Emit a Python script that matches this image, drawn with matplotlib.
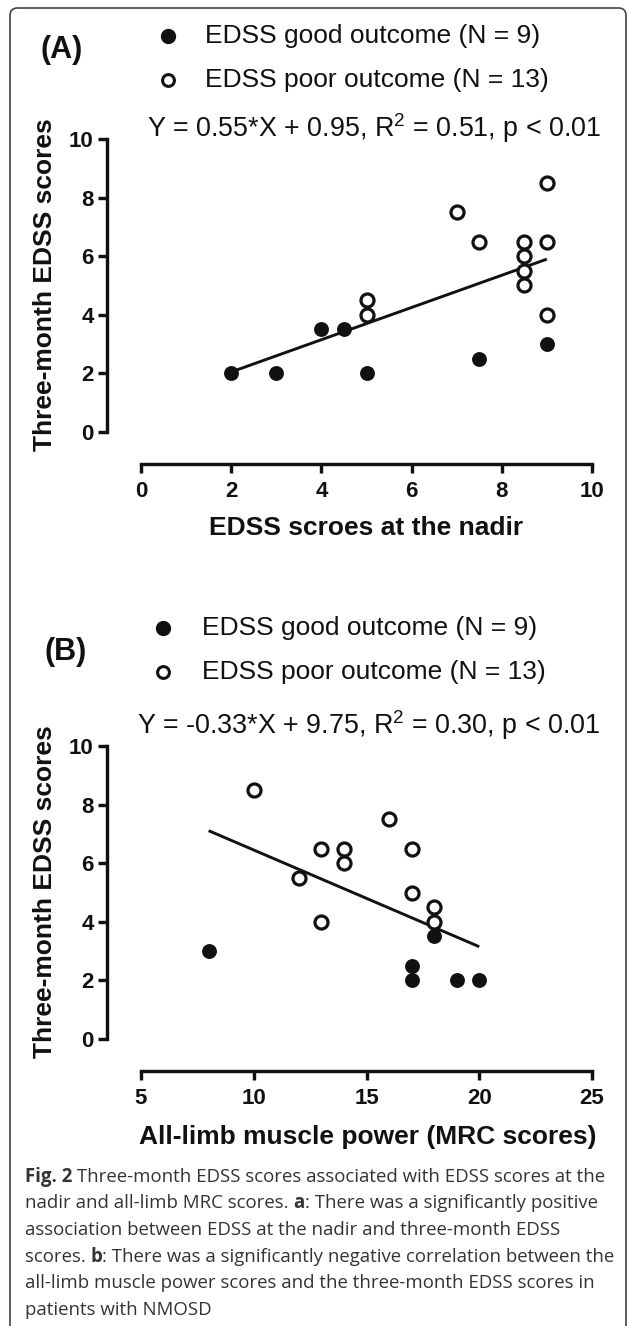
import matplotlib
matplotlib.use("Agg")
import matplotlib.pyplot as plt
from matplotlib.lines import Line2D
from matplotlib.patches import FancyBboxPatch

# ---------------- data ----------------
# Panel A: EDSS at nadir vs three-month EDSS
a_good_x = [2, 3, 4, 4.5, 5, 7.5, 9]
a_good_y = [2, 2, 3.5, 3.5, 2, 2.5, 3]
a_poor_x = [5, 5, 7, 7.5, 8.5, 8.5, 8.5, 8.5, 9, 9, 9]
a_poor_y = [4.5, 4, 7.5, 6.5, 6.5, 6, 5.5, 5, 8.5, 6.5, 4]
a_slope, a_intercept = 0.55, 0.95
a_fit_range = [2, 9]
a_xticks = [0, 2, 4, 6, 8, 10]

# Panel B: all-limb MRC vs three-month EDSS
b_good_x = [8, 17, 17, 18, 19, 20]
b_good_y = [3, 2.5, 2, 3.5, 2, 2]
b_poor_x = [10, 12, 13, 13, 14, 14, 16, 17, 17, 18, 18]
b_poor_y = [8.5, 5.5, 6.5, 4, 6.5, 6, 7.5, 6.5, 5, 4.5, 4]
b_slope, b_intercept = -0.33, 9.75
b_fit_range = [8, 20]
b_xticks = [5, 10, 15, 20, 25]

yticks = [0, 2, 4, 6, 8, 10]

legend_good = "EDSS good outcome (N = 9)"
legend_poor = "EDSS poor outcome (N = 13)"
eq_a = "Y = 0.55*X + 0.95, R$^2$ = 0.51, p < 0.01"
eq_b = "Y = -0.33*X + 9.75, R$^2$ = 0.30, p < 0.01"
ylabel = "Three-month EDSS scores"
xlabel_a = "EDSS scroes at the nadir"
xlabel_b = "All-limb muscle power (MRC scores)"

caption_lines = [
    [("Fig. 2", "bold"), (" Three-month EDSS scores associated with EDSS scores at the", "normal")],
    [("nadir and all-limb MRC scores. ", "normal"), ("a", "bold"), (": There was a significantly positive", "normal")],
    [("association between EDSS at the nadir and three-month EDSS", "normal")],
    [("scores. ", "normal"), ("b", "bold"), (": There was a significantly negative correlation between the", "normal")],
    [("all-limb muscle power scores and the three-month EDSS scores in", "normal")],
    [("patients with NMOSD", "normal")],
]

# ---------------- style ----------------
plt.rcParams['font.family'] = ['Liberation Sans', 'DejaVu Sans']
plt.rcParams['mathtext.fontset'] = 'custom'
plt.rcParams['mathtext.rm'] = 'Liberation Sans'
plt.rcParams['mathtext.it'] = 'Liberation Sans'

W, H = 627, 1326
DPI = 100
fig = plt.figure(figsize=(W / DPI, H / DPI), dpi=DPI)
fig.patch.set_facecolor('white')

def fx(x):
    return x / W

def fy(y):
    return 1 - y / H

INK = '#111111'
PX = 72 / DPI  # points per pixel
LW_SPINE = 3.4 * PX

# border
border = FancyBboxPatch((fx(10), fy(1345)), fx(626) - fx(10), fy(8) - fy(1345),
                        boxstyle="round,pad=0,rounding_size=0.012",
                        transform=fig.transFigure, fill=False,
                        edgecolor='#444444', linewidth=1.2, mutation_aspect=W / H)
fig.add_artist(border)


def make_panel(rect, xlim, xticks, gx, gy, px_, py_, slope, intercept, fit_range, xlabel,
               xlabel_y, label_x_center):
    ax = fig.add_axes(rect)
    ax.set_xlim(*xlim)
    ax.set_ylim(0, 10)
    for s in ['top', 'right']:
        ax.spines[s].set_visible(False)
    ax.spines['left'].set_position(('outward', 34 * PX))
    ax.spines['bottom'].set_position(('outward', 32 * PX))
    ax.spines['left'].set_bounds(0, 10)
    ax.spines['bottom'].set_bounds(*xlim)
    for s in ['left', 'bottom']:
        ax.spines[s].set_linewidth(LW_SPINE)
        ax.spines[s].set_color(INK)
        ax.spines[s].set_capstyle('projecting')
    ax.set_xticks(xticks)
    ax.set_yticks(yticks)
    ax.tick_params(axis='both', direction='out', length=9 * PX,
                   width=LW_SPINE, color=INK, labelsize=16, labelcolor=INK)
    ax.tick_params(axis='x', pad=6)
    ax.tick_params(axis='y', pad=3)
    for lab in ax.get_xticklabels() + ax.get_yticklabels():
        lab.set_fontweight('bold')
    fx_ = list(fit_range)
    fy_ = [slope * v + intercept for v in fx_]
    ax.plot(fx_, fy_, color=INK, linewidth=2.1, zorder=2, solid_capstyle='butt')
    ax.scatter(gx, gy, s=115, marker='o', facecolor=INK, edgecolor=INK, linewidth=0, zorder=3,
               clip_on=False)
    ax.scatter(px_, py_, s=88, marker='o', facecolor='white', edgecolor=INK, linewidth=2.3,
               zorder=3, clip_on=False)
    ax.patch.set_alpha(0)
    fig.text(fx(label_x_center), fy(xlabel_y), xlabel, ha='center', va='center',
             fontsize=19, fontweight='bold', color=INK)
    return ax


# Panel A axes: x 0->141px, 10->592px ; y 0->432, 10->139
axA = make_panel([fx(141), fy(432), fx(592) - fx(141), fy(139) - fy(432)], (0, 10), a_xticks,
                 a_good_x, a_good_y, a_poor_x, a_poor_y, a_slope, a_intercept, a_fit_range,
                 xlabel_a, 528, 366)
# Panel B axes: x 5->141, 25->592 ; y 0->1039, 10->746
axB = make_panel([fx(141), fy(1039), fx(592) - fx(141), fy(746) - fy(1039)], (5, 25), b_xticks,
                 b_good_x, b_good_y, b_poor_x, b_poor_y, b_slope, b_intercept, b_fit_range,
                 xlabel_b, 1137, 368)

# y labels
fig.text(fx(45), fy(285), ylabel, rotation=90, ha='center', va='center', fontsize=19,
         fontweight='bold', color=INK)
fig.text(fx(45), fy(892), ylabel, rotation=90, ha='center', va='center', fontsize=19,
         fontweight='bold', color=INK)

# panel letters
fig.text(fx(62), fy(50), "(A)", ha='center', va='center', fontsize=22, fontweight='bold', color=INK)
fig.text(fx(66), fy(652), "(B)", ha='center', va='center', fontsize=22, fontweight='bold', color=INK)


def legend(mx, y1, y2, tx):
    fig.add_artist(Line2D([fx(mx)], [fy(y1)], transform=fig.transFigure, marker='o',
                          markersize=10, markerfacecolor=INK, markeredgecolor=INK, linestyle='none'))
    fig.add_artist(Line2D([fx(mx)], [fy(y2)], transform=fig.transFigure, marker='o',
                          markersize=8.5, markerfacecolor='white', markeredgecolor=INK,
                          markeredgewidth=2.2, linestyle='none'))
    fig.text(fx(tx), fy(y1), legend_good, ha='left', va='center', fontsize=19, color=INK)
    fig.text(fx(tx), fy(y2), legend_poor, ha='left', va='center', fontsize=19, color=INK)


legend(168, 36, 80, 205)
legend(163, 628, 672, 202)

# equations
fig.text(fx(147), fy(128), eq_a, ha='left', va='center', fontsize=19.4, color=INK)
fig.text(fx(137), fy(725), eq_b, ha='left', va='center', fontsize=19.4, color=INK)

# caption with mixed weights
fig.canvas.draw()
renderer = fig.canvas.get_renderer()
cap_y = [1177, 1203.5, 1230, 1257, 1283.5, 1310]
CAP_FONT = ['Open Sans', 'DejaVu Sans']
for runs, yy in zip(caption_lines, cap_y):
    x = 25
    for txt, wt in runs:
        t = fig.text(fx(x), fy(yy), txt, ha='left', va='center', fontsize=13.4,
                     family=CAP_FONT, fontweight=wt, color='#333333')
        bb = t.get_window_extent(renderer=renderer)
        x += bb.width

fig.savefig("out.png", dpi=DPI, facecolor='white')
